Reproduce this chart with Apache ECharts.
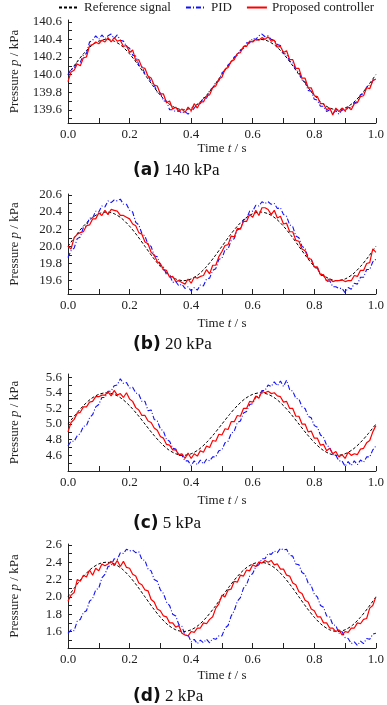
<!DOCTYPE html>
<html><head><meta charset="utf-8">
<script src="https://cdn.jsdelivr.net/npm/echarts@6/dist/echarts.min.js"></script>
<style>html,body{margin:0;padding:0;background:#fff}#c{width:387px;height:705px}</style>
</head><body><div id="c"></div>
<script>
const seriesNames = ['Reference signal', 'PID', 'Proposed controller'];
const xTickLabels = [0.0, 0.2, 0.4, 0.6, 0.8, 1.0];

// reference signal, sampled every 0.025 s
const refA = [140.000,140.124,140.235,140.324,140.380,140.400,140.380,140.324,140.235,140.124,140.000,139.876,139.765,139.676,139.620,139.600,139.620,139.676,139.765,139.876,140.000,140.124,140.235,140.324,140.380,140.400,140.380,140.324,140.235,140.124,140.000,139.876,139.765,139.676,139.620,139.600,139.620,139.676,139.765,139.876,140.000];
const refB = [20.000,20.124,20.235,20.324,20.380,20.400,20.380,20.324,20.235,20.124,20.000,19.876,19.765,19.676,19.620,19.600,19.620,19.676,19.765,19.876,20.000,20.124,20.235,20.324,20.380,20.400,20.380,20.324,20.235,20.124,20.000,19.876,19.765,19.676,19.620,19.600,19.620,19.676,19.765,19.876,20.000];
const refC = [5.000,5.124,5.235,5.324,5.380,5.400,5.380,5.324,5.235,5.124,5.000,4.876,4.765,4.676,4.620,4.600,4.620,4.676,4.765,4.876,5.000,5.124,5.235,5.324,5.380,5.400,5.380,5.324,5.235,5.124,5.000,4.876,4.765,4.676,4.620,4.600,4.620,4.676,4.765,4.876,5.000];
const refD = [2.000,2.124,2.235,2.324,2.380,2.400,2.380,2.324,2.235,2.124,2.000,1.876,1.765,1.676,1.620,1.600,1.620,1.676,1.765,1.876,2.000,2.124,2.235,2.324,2.380,2.400,2.380,2.324,2.235,2.124,2.000,1.876,1.765,1.676,1.620,1.600,1.620,1.676,1.765,1.876,2.000];

// measured responses, sampled every 0.01 s
const pidA = [140.00,140.06,140.07,140.15,140.14,140.22,140.24,140.37,140.39,140.44,
140.40,140.45,140.41,140.44,140.46,140.41,140.45,140.39,140.38,140.32,
140.30,140.22,140.21,140.11,140.09,140.01,139.99,139.91,139.88,139.80,
139.79,139.70,139.70,139.60,139.60,139.58,139.59,139.56,139.58,139.55,
139.58,139.62,139.66,139.67,139.74,139.73,139.82,139.85,139.91,139.93,
140.02,140.05,140.11,140.14,140.20,140.22,140.28,140.30,140.36,140.36,
140.41,140.40,140.44,140.46,140.43,140.44,140.40,140.39,140.34,140.33,
140.24,140.23,140.15,140.14,140.05,140.03,139.94,139.92,139.82,139.81,
139.72,139.71,139.64,139.64,139.58,139.60,139.56,139.59,139.55,139.60,
139.58,139.63,139.62,139.68,139.69,139.77,139.78,139.86,139.87,139.93,139.96];
const propA = [139.92,140.03,140.05,140.12,140.10,140.19,140.20,140.33,140.34,140.37,
140.35,140.39,140.37,140.42,140.37,140.42,140.38,140.39,140.32,140.33,
140.25,140.28,140.16,140.17,140.08,140.07,139.98,139.96,139.88,139.87,
139.78,139.78,139.68,139.70,139.61,139.63,139.58,139.61,139.57,139.63,
139.59,139.67,139.62,139.69,139.69,139.76,139.77,139.85,139.87,139.95,
139.97,140.06,140.08,140.15,140.17,140.24,140.25,140.32,140.32,140.38,
140.37,140.40,140.39,140.42,140.40,140.43,140.38,140.39,140.31,140.32,
140.25,140.27,140.17,140.17,140.07,140.07,139.96,139.96,139.85,139.85,
139.76,139.75,139.67,139.67,139.60,139.62,139.54,139.62,139.58,139.62,
139.59,139.63,139.60,139.67,139.68,139.75,139.76,139.85,139.84,139.93,139.95];

const pidB = [19.87,19.95,19.98,20.09,20.11,20.22,20.24,20.33,20.33,20.41,
20.40,20.47,20.46,20.53,20.51,20.54,20.53,20.55,20.49,20.49,
20.42,20.40,20.28,20.25,20.15,20.12,20.02,20.00,19.89,19.88,
19.78,19.76,19.67,19.67,19.58,19.59,19.54,19.56,19.51,19.53,
19.48,19.52,19.49,19.55,19.54,19.62,19.63,19.72,19.74,19.85,
19.86,19.96,19.97,20.07,20.09,20.19,20.21,20.31,20.32,20.41,
20.41,20.48,20.47,20.52,20.50,20.52,20.49,20.50,20.44,20.45,
20.37,20.35,20.25,20.23,20.12,20.10,20.00,19.98,19.87,19.85,
19.76,19.75,19.66,19.66,19.59,19.60,19.53,19.53,19.51,19.51,
19.46,19.52,19.50,19.57,19.56,19.64,19.64,19.73,19.73,19.82,19.85];
const propB = [20.00,19.97,20.10,20.14,20.16,20.17,20.24,20.25,20.32,20.32,
20.39,20.36,20.42,20.37,20.43,20.42,20.41,20.36,20.36,20.34,
20.32,20.26,20.24,20.16,20.14,20.05,20.03,19.93,19.90,19.82,
19.80,19.73,19.72,19.64,19.65,19.59,19.60,19.58,19.56,19.62,
19.57,19.64,19.63,19.65,19.66,19.73,19.68,19.78,19.78,19.88,
19.94,20.01,20.02,20.12,20.11,20.21,20.20,20.29,20.29,20.37,
20.34,20.42,20.36,20.45,20.45,20.43,20.37,20.42,20.33,20.35,
20.26,20.27,20.17,20.17,20.07,20.06,19.97,19.95,19.86,19.85,
19.76,19.76,19.67,19.67,19.60,19.62,19.59,19.60,19.60,19.61,
19.59,19.60,19.60,19.66,19.65,19.72,19.72,19.80,19.81,19.97,19.93];

const pidC = [4.72,4.78,4.78,4.85,4.88,4.97,4.98,5.08,5.12,5.22,
5.25,5.34,5.34,5.42,5.42,5.49,5.50,5.58,5.52,5.53,
5.46,5.47,5.40,5.38,5.29,5.29,5.17,5.18,5.06,5.04,
4.94,4.91,4.80,4.78,4.69,4.68,4.60,4.60,4.53,4.53,
4.47,4.53,4.48,4.54,4.49,4.55,4.53,4.58,4.58,4.66,
4.67,4.76,4.78,4.88,4.91,5.02,5.04,5.14,5.16,5.25,
5.26,5.35,5.35,5.43,5.43,5.50,5.48,5.54,5.49,5.55,
5.48,5.56,5.44,5.42,5.33,5.32,5.22,5.20,5.10,5.08,
4.98,4.96,4.86,4.83,4.73,4.70,4.61,4.60,4.53,4.53,
4.46,4.52,4.47,4.53,4.48,4.54,4.51,4.58,4.58,4.67,4.72];
const propC = [4.90,5.02,5.06,5.14,5.15,5.22,5.22,5.28,5.29,5.35,
5.35,5.37,5.37,5.41,5.36,5.43,5.37,5.39,5.34,5.40,
5.32,5.29,5.21,5.18,5.11,5.11,5.04,5.02,4.95,4.92,
4.84,4.82,4.74,4.73,4.67,4.67,4.61,4.62,4.56,4.63,
4.56,4.62,4.59,4.66,4.64,4.72,4.70,4.79,4.78,4.87,
4.86,4.94,4.93,5.03,5.03,5.11,5.10,5.20,5.20,5.29,
5.28,5.36,5.33,5.42,5.40,5.42,5.39,5.40,5.36,5.35,
5.28,5.29,5.20,5.20,5.10,5.10,5.00,5.00,4.90,4.91,
4.82,4.82,4.73,4.74,4.66,4.69,4.62,4.65,4.58,4.61,
4.56,4.64,4.60,4.62,4.61,4.68,4.69,4.76,4.79,4.90,4.98];

const pidD = [1.58,1.62,1.61,1.72,1.74,1.82,1.84,1.95,1.98,2.08,
2.10,2.22,2.26,2.35,2.36,2.44,2.43,2.51,2.50,2.55,
2.53,2.54,2.51,2.52,2.43,2.42,2.32,2.30,2.20,2.18,
2.08,2.04,1.94,1.90,1.80,1.78,1.68,1.66,1.56,1.56,
1.48,1.51,1.46,1.50,1.47,1.51,1.47,1.52,1.51,1.55,
1.55,1.64,1.67,1.78,1.84,1.95,1.99,2.10,2.14,2.24,
2.27,2.35,2.37,2.44,2.44,2.50,2.49,2.53,2.51,2.56,
2.54,2.55,2.48,2.47,2.38,2.37,2.28,2.26,2.16,2.13,
2.03,2.00,1.90,1.88,1.78,1.77,1.68,1.67,1.58,1.60,
1.53,1.52,1.46,1.48,1.44,1.49,1.46,1.52,1.51,1.57,1.58];
const propD = [1.95,2.02,2.05,2.20,2.18,2.25,2.23,2.31,2.25,2.33,
2.30,2.38,2.36,2.38,2.41,2.36,2.42,2.35,2.41,2.34,
2.33,2.26,2.24,2.16,2.14,2.08,2.07,1.97,1.94,1.86,
1.84,1.78,1.77,1.70,1.70,1.65,1.67,1.58,1.56,1.55,
1.60,1.59,1.64,1.64,1.70,1.69,1.74,1.77,1.87,1.92,
2.02,2.00,2.08,2.09,2.18,2.17,2.25,2.24,2.31,2.30,
2.37,2.35,2.40,2.39,2.42,2.40,2.42,2.37,2.38,2.32,
2.32,2.25,2.24,2.16,2.14,2.06,2.04,1.96,1.94,1.86,
1.84,1.77,1.77,1.70,1.70,1.64,1.64,1.60,1.62,1.56,
1.60,1.59,1.64,1.64,1.70,1.69,1.74,1.75,1.87,1.90,2.00];

const yLabelsA = [139.6, 139.8, 140.0, 140.2, 140.4, 140.6];
const yTicksA  = [139.5, 139.6, 139.7, 139.8, 139.9, 140.0, 140.1, 140.2, 140.3, 140.4, 140.5, 140.6];
const yLabelsB = [19.6, 19.8, 20.0, 20.2, 20.4, 20.6];
const yTicksB  = [19.5, 19.6, 19.7, 19.8, 19.9, 20.0, 20.1, 20.2, 20.3, 20.4, 20.5, 20.6];
const yLabelsC = [4.6, 4.8, 5.0, 5.2, 5.4, 5.6];
const yTicksC  = [4.5, 4.6, 4.7, 4.8, 4.9, 5.0, 5.1, 5.2, 5.3, 5.4, 5.5, 5.6];
const yLabelsD = [1.6, 1.8, 2.0, 2.2, 2.4, 2.6];
const yTicksD  = [1.5, 1.6, 1.7, 1.8, 1.9, 2.0, 2.1, 2.2, 2.3, 2.4, 2.5, 2.6];

const captionLetters = ['(a)', '(b)', '(c)', '(d)'];
const captionTexts = ['140 kPa', '20 kPa', '5 kPa', '2 kPa'];

// sample times
const times = [];
for (let i = 0; i <= 100; i++) times.push(i / 100);
const refTimes = [];
for (let i = 0; i <= 40; i++) refTimes.push(i * 0.025);

const panels = [
  {ref: refA, pid: pidA, prop: propA, min: 139.45, max: 140.62, labels: yLabelsA, ticks: yTicksA, top: 20, height: 103, nameGap: 13, capY: 171},
  {ref: refB, pid: pidB, prop: propB, min: 19.445, max: 20.61, labels: yLabelsB, ticks: yTicksB, top: 194, height: 100, nameGap: 23, capY: 345},
  {ref: refC, pid: pidC, prop: propC, min: 4.40, max: 5.64, labels: yLabelsC, ticks: yTicksC, top: 374, height: 97, nameGap: 23, capY: 524},
  {ref: refD, pid: pidD, prop: propD, min: 1.41, max: 2.61, labels: yLabelsD, ticks: yTicksD, top: 544, height: 104, nameGap: 21, capY: 697}
];

const SERIF = '"Liberation Serif", "Times New Roman", serif';
const axisColor = '#222';
const zip = (xs, ys) => ys.map((y, i) => [xs[i], y]);

const grid = [], xAxis = [], yAxis = [], series = [], graphic = [];
panels.forEach((p, k) => {
  grid.push({left: 59, right: 10, top: p.top, height: p.height, containLabel: false});
  xAxis.push({
    type: 'value', gridIndex: k, min: 0, max: 1, interval: 0.2,
    name: 'Time {i|t} / s', nameLocation: 'middle', nameGap: p.nameGap,
    nameTextStyle: {fontFamily: SERIF, fontSize: 13, color: axisColor, rich: {i: {fontStyle: 'italic', fontFamily: SERIF, fontSize: 13, color: axisColor}}},
    axisLine: {show: true, onZero: false, lineStyle: {color: axisColor, width: 1}},
    axisTick: {show: true, inside: true, length: 5, lineStyle: {color: axisColor}},
    minorTick: {show: true, splitNumber: 2, length: 5, lineStyle: {color: axisColor}},
    axisLabel: {fontFamily: SERIF, fontSize: 13, color: axisColor, margin: 5, formatter: v => v.toFixed(1),
      customValues: xTickLabels},
    splitLine: {show: false}, minorSplitLine: {show: false}
  });
  yAxis.push({
    type: 'value', gridIndex: k, min: p.min, max: p.max,
    name: 'Pressure {i|p} / kPa', nameLocation: 'middle', nameGap: 47,
    nameTextStyle: {fontFamily: SERIF, fontSize: 13, color: axisColor, rich: {i: {fontStyle: 'italic', fontFamily: SERIF, fontSize: 13, color: axisColor}}},
    axisLine: {show: true, onZero: false, lineStyle: {color: axisColor, width: 1}},
    axisTick: {show: true, inside: true, length: 4, lineStyle: {color: axisColor}, customValues: p.ticks},
    axisLabel: {fontFamily: SERIF, fontSize: 13, color: axisColor, margin: 6, formatter: v => v.toFixed(1), customValues: p.labels},
    splitLine: {show: false}
  });
  series.push({
    name: seriesNames[0], type: 'line', xAxisIndex: k, yAxisIndex: k,
    data: zip(refTimes, p.ref), symbol: 'none', smooth: 0.3,
    lineStyle: {color: '#000', width: 1, type: [3, 2]}, itemStyle: {color: '#000'}, z: 2
  });
  series.push({
    name: seriesNames[1], type: 'line', xAxisIndex: k, yAxisIndex: k,
    data: zip(times, p.pid), symbol: 'none',
    lineStyle: {color: '#1010ff', width: 1.1, type: [5, 2, 1, 2]}, itemStyle: {color: '#1010ff'}, z: 3
  });
  series.push({
    name: seriesNames[2], type: 'line', xAxisIndex: k, yAxisIndex: k,
    data: zip(times, p.prop), symbol: 'none',
    lineStyle: {color: '#ff0000', width: 1.2}, itemStyle: {color: '#ff0000'}, z: 4
  });
  graphic.push({
    type: 'text', left: 133, top: p.capY - 9,
    style: {
      text: '{b|' + captionLetters[k] + '} ' + captionTexts[k],
      font: '17px "Liberation Serif"', fill: '#111',
      rich: {b: {fontFamily: '"DejaVu Sans", "Liberation Sans", sans-serif', fontWeight: 'bold', fontSize: 17, fill: '#111', color: '#111'}}
    }
  });
});

const chart = echarts.init(document.getElementById('c'), null, {renderer: 'canvas'});
chart.setOption({
  animation: false,
  backgroundColor: '#fff',
  legend: {
    data: seriesNames, left: 58, top: 1, padding: 0, width: 340, itemWidth: 20, itemHeight: 10, itemGap: 14,
    itemStyle: {opacity: 0},
    textStyle: {fontFamily: SERIF, fontSize: 13, color: axisColor}
  },
  grid, xAxis, yAxis, series, graphic
});
</script>
</body></html>
